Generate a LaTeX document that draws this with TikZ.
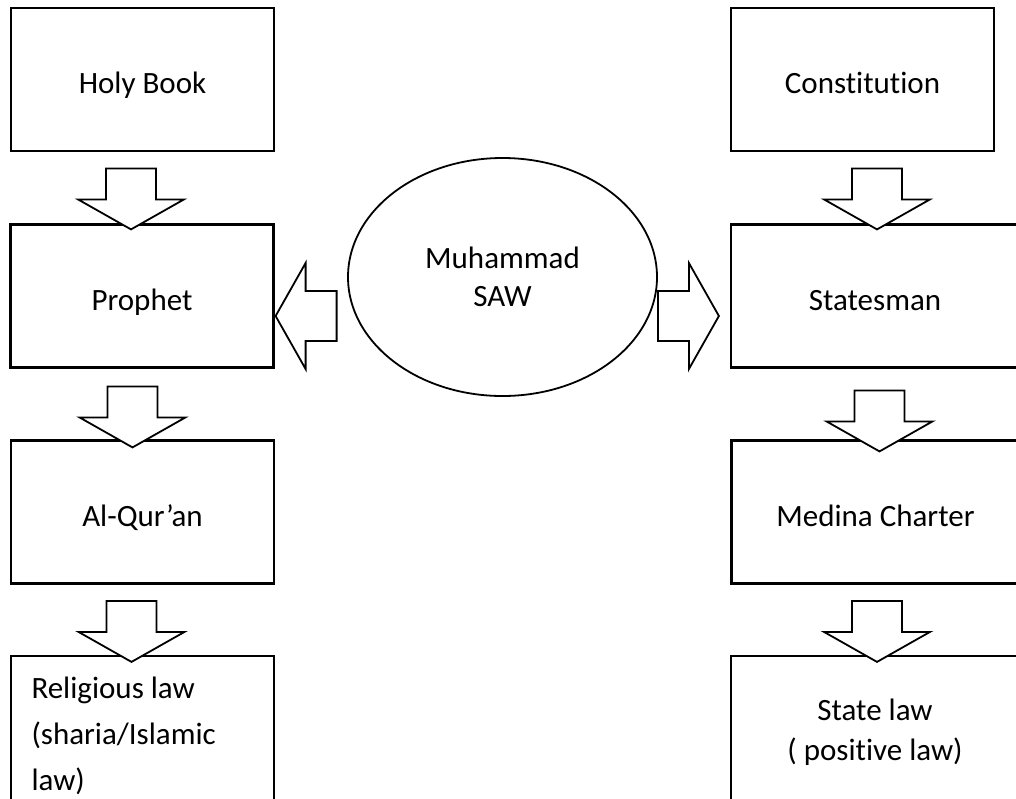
\documentclass[tikz,border=0pt]{standalone}
\usepackage{fontspec}
\setmainfont{Carlito}[Ligatures={TeX,NoCommon}]
\usetikzlibrary{calc, shapes.geometric}

% hollow block arrow: #1 = tip point, #2 = direction angle
\newcommand{\blockarrow}[2]{%
    \draw[blockarr, shift={#1}, rotate=#2] (0,0) -- (-30,-53) -- (-30,-25) -- (-61,-25)
        -- (-61,25) -- (-30,25) -- (-30,53) -- cycle;
}

\begin{document}
\begin{tikzpicture}[x=1pt, y=-1pt,
    every node/.style={font=\fontsize{31pt}{38pt}\selectfont},
    box/.style={draw, line width=2.2pt, minimum width=263pt, minimum height=143pt, align=center},
    widebox/.style={box, minimum width=288pt},
    oneline/.style={text height=28pt, text depth=0pt},
    blockarr/.style={draw, fill=white, line width=1.8pt, line join=miter}]

    \useasboundingbox (0,0) rectangle (1016,798);
    \clip (0,0) rectangle (1016,798);

    % 1. Left column
    \node[box, oneline] (hb) at (142.5,79.5) {Holy Book};
    \node[box, oneline] (pr) at (142,296) {Prophet};
    \node[box, oneline] (qr) at (142.5,512) {Al-Qur’an};
    \node[box, minimum height=160pt, text width=222pt, align=flush left,
          font=\fontsize{31pt}{46pt}\selectfont] (rl) at (142.5,736)
          {Religious law\\(sharia/Islamic\\law)};

    % 2. Right column
    \node[box, oneline] (co) at (862.5,79.5) {Constitution};
    \node[widebox, oneline] (sm) at (875,296) {Statesman};
    \node[widebox, oneline] (mc) at (875.5,512) {Medina Charter};
    \node[widebox, minimum height=152pt,
          font=\fontsize{31pt}{40pt}\selectfont] (sl) at (875,732)
          {State law\\( positive law)};

    % 3. Centre
    \node[draw, ellipse, line width=1.8pt, minimum width=309pt, minimum height=238pt,
          inner sep=0pt, align=center] (mu) at (502.5,277) {Muhammad\\SAW};

    % 4. Block arrows
    \blockarrow{($(pr.north)+(-11,6)$)}{-90}
    \blockarrow{($(qr.north)+(-10,8)$)}{-90}
    \blockarrow{($(rl.north)+(-11,7)$)}{-90}
    \blockarrow{($(sm.north)+(2,6)$)}{-90}
    \blockarrow{($(mc.north)+(4,12)$)}{-90}
    \blockarrow{($(sl.north)+(2,7)$)}{-90}
    \blockarrow{($(pr.east)+(1,20)$)}{180}
    \blockarrow{($(sm.west)+(-11,20)$)}{0}

\end{tikzpicture}
\end{document}
